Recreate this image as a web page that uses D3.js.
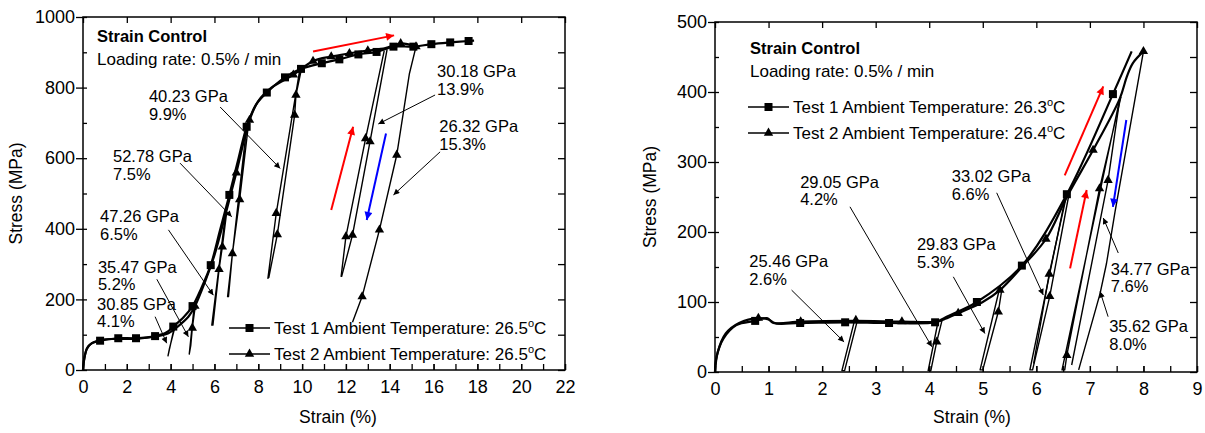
<!DOCTYPE html>
<html><head><meta charset="utf-8">
<script src="https://cdn.jsdelivr.net/npm/d3@7/dist/d3.min.js"></script>
<style>
body{margin:0;background:#fff}
text{font-family:"Liberation Sans",Arial,sans-serif;fill:#000}
</style></head>
<body><svg id="c" width="1205" height="433"></svg>
<script>
// ---------------- DATA ----------------
const leftXTicks = [0,2,4,6,8,10,12,14,16,18,20,22];
const leftXMinor = [0,1,2,3,4,5,6,7,8,9,10,11,12,13,14,15,16,17,18,19,20,21,22];
const leftYTicks = [0,200,400,600,800,1000];
const leftYMinor = [0,100,200,300,400,500,600,700,800,900,1000];
const rightXTicks = [0,1,2,3,4,5,6,7,8,9];
const rightXMinor = [0,0.5,1,1.5,2,2.5,3,3.5,4,4.5,5,5.5,6,6.5,7,7.5,8,8.5,9];
const rightYTicks = [0,100,200,300,400,500];
const rightYMinor = [0,50,100,150,200,250,300,350,400,450,500];

// Left panel – Test 1 (squares) envelope
const leftTest1Line = [[0,0],[0.06,32],[0.18,60],[0.4,76],[0.78,83],[1.61,90],[2.42,90],[3.29,96],[3.8,106],[4.12,123],[4.6,150],[5.0,181],[5.4,232],[5.83,297],[6.25,395],[6.68,496],[7.1,600],[7.47,689],[7.9,752],[8.39,786],[9.22,829],[9.95,853],[10.9,869],[11.7,880],[12.57,894],[13.4,901],[14.17,916],[15.08,916],[15.9,923],[16.76,928],[17.6,932],[17.85,933]];
const leftTest1Squares = [[0.78,83],[1.61,90],[2.42,90],[3.29,96],[4.12,123],[5.0,181],[5.83,297],[6.68,496],[7.47,689],[8.39,786],[9.22,829],[9.95,853],[10.9,869],[11.7,880],[12.57,894],[13.4,901],[14.17,916],[15.08,916],[15.9,923],[16.76,928],[17.6,932]];
// Left panel – Test 2 (triangles) envelope
const leftTest2Line = [[0,0],[0.08,40],[0.25,68],[0.8,85],[1.6,88],[2.5,89],[3.3,95],[3.9,104],[4.3,122],[4.8,150],[5.11,181],[5.6,255],[6.0,325],[6.5,440],[7.0,559],[7.6,708],[8.0,762],[8.6,800],[9.6,836],[10.5,875],[11.33,888],[12.16,897],[13.0,905],[13.8,912],[14.5,925],[15.2,916]];
const leftTest2Triangles = [[5.11,181],[7.0,559],[7.6,708],[9.6,836],[10.5,875],[11.33,888],[12.16,897],[13.0,905],[14.5,925],[15.2,916],
  [4.99,119],[6.21,285],[6.36,349],[6.82,330],[7.15,483],[8.82,444],[8.87,384],[9.66,722],[9.72,779],
  [12.0,378],[12.3,382],[12.9,656],[13.1,647],[12.74,208],[13.53,397],[14.32,609]];
// Left panel – unloading / reloading loops
const leftLoops = [
  [[4.17,122],[3.88,40],[3.95,62],[4.22,127]],
  [[5.08,184],[4.85,45],[4.92,70],[4.99,119],[5.14,188]],
  [[6.5,440],[5.88,127],[5.93,127],[6.21,285],[6.36,349],[6.56,448]],
  [[7.47,689],[6.6,208],[6.64,208],[6.82,330],[7.15,483],[7.55,694]],
  [[9.9,853],[8.82,444],[8.44,260],[8.48,262],[8.87,384],[9.66,722],[9.72,779],[9.98,855]],
  [[13.75,905],[12.9,656],[12.0,378],[11.78,264]],
  [[11.8,264],[12.3,382],[13.1,647],[13.88,908]],
  [[15.2,916],[14.9,840],[14.32,609],[13.53,397],[12.74,208],[12.3,135]]
];

// Right panel – Test 1 (squares)
const rightTest1Line = [[0,0],[0.03,22],[0.16,48],[0.4,67],[0.75,73],[0.97,77],[1.09,70],[1.59,70],[2.43,71],[3.25,70],[4.11,71],[4.3,78],[4.89,100],[5.73,152],[6.57,254],[7.43,397],[7.78,458]];
const rightTest1Squares = [[0.75,73],[1.59,70],[2.43,71],[3.25,70],[4.11,71],[4.89,100],[5.73,152],[6.57,254],[7.43,397]];
// Right panel – Test 2 (triangles)
const rightTest2Line = [[0,0],[0.05,28],[0.2,55],[0.45,70],[0.81,77],[1.0,75],[1.12,70],[1.6,72],[2.63,73],[3.49,72],[4.15,72],[4.3,76],[4.54,84],[5.0,100],[5.32,117],[5.73,150],[6.18,190],[6.57,250],[7.06,317],[7.56,391],[7.69,422],[7.8,441],[8.0,458]];
const rightTest2Triangles = [[0.81,77],[1.6,72],[2.63,74],[3.49,72],[4.54,84],[5.32,117],[6.18,190],[7.06,317],[8.0,458],
  [4.14,43],[5.29,86],[6.24,140],[6.25,108],[6.57,24],[7.18,262],[7.34,274]];
const rightLoops = [
  [[2.6,72],[2.37,2],[2.42,2],[2.66,74]],
  [[4.16,70],[3.98,2],[4.03,2],[4.14,43],[4.24,74]],
  [[5.3,115],[4.95,3],[5.0,3],[5.29,86],[5.36,120]],
  [[6.55,252],[5.88,3],[5.93,3],[6.25,108],[6.6,250]],
  [[6.57,254],[6.24,140],[5.95,12]],
  [[7.56,391],[6.48,3],[6.53,3],[6.57,24],[7.18,262],[7.58,393]],
  [[6.66,10],[7.34,274],[7.56,391]],
  [[8.0,458],[7.47,229],[7.31,155],[7.19,112],[6.79,3]]
];

// Coloured direction arrows [from, to]
const leftRedArrows = [[[10.5,902],[14.2,948]],[[11.33,453],[12.33,689]]];
const leftBlueArrows = [[[13.83,670],[12.95,425]]];
const rightRedArrows = [[[6.53,281],[7.25,408]],[[6.63,148],[6.94,260]]];
const rightBlueArrows = [[[7.68,360],[7.43,236]]];

// Annotations
const leftAnnoText = [["40.23 GPa","9.9%"],["52.78 GPa","7.5%"],["47.26 GPa","6.5%"],["35.47 GPa","5.2%"],["30.85 GPa","4.1%"],["30.18 GPa","13.9%"],["26.32 GPa","15.3%"]];
const leftAnnoAt = [[3.01,759],[1.37,589],[0.78,419],[0.68,275],[0.64,170],[16.16,830],[16.26,674]];
const leftAnnoFrom = [[6.26,745],[4.43,586],[3.9,397],[3.37,257],[3.29,151],[16.07,779],[16.3,618]];
const leftAnnoTo = [[9.0,571],[6.79,434],[5.95,212],[4.81,94],[3.82,76],[13.48,697],[14.17,496]];
const rightAnnoText = [["25.46 GPa","2.6%"],["29.05 GPa","4.2%"],["29.83 GPa","5.3%"],["33.02 GPa","6.6%"],["34.77 GPa","7.6%"],["35.62 GPa","8.0%"]];
const rightAnnoAt = [[0.64,150],[1.59,263],[3.77,174],[4.42,271],[7.39,139],[7.36,57]];
const rightAnnoFrom = [[1.43,117],[2.52,236],[4.45,136],[5.26,256],[7.53,170],[7.34,79]];
const rightAnnoTo = [[2.41,43],[4.05,36],[5.04,55],[6.13,110],[7.25,220],[7.19,115]];

const titleLines = ["Strain Control","Loading rate: 0.5% / min"];
const leftLegend = [["Test 1 Ambient Temperature: 26.5","C","square"],["Test 2 Ambient Temperature: 26.5","C","triangle"]];
const rightLegend = [["Test 1 Ambient Temperature: 26.3","C","square"],["Test 2 Ambient Temperature: 26.4","C","triangle"]];

// ---------------- DRAW ----------------
const svg = d3.select("#c");
svg.append("rect").attr("width",1205).attr("height",433).attr("fill","#fff");

const defs = svg.append("defs");
function mk(id,color,w,h){
  defs.append("marker").attr("id",id).attr("viewBox","0 0 10 10").attr("refX",10).attr("refY",5)
    .attr("markerUnits","userSpaceOnUse").attr("markerWidth",w).attr("markerHeight",h).attr("orient","auto")
    .append("path").attr("d","M0,0L10,5L0,10z").attr("fill",color);
}
mk("ar","#ff0000",12,8); mk("ab","#0000ff",12,8); mk("ak","#000",9,6);

function panel(cfg){
  const g = svg.append("g");
  const {x,y} = cfg;
  const [x0,x1] = x.range(), [y0,y1] = y.range();
  const tickStyle = s => s.selectAll("line").attr("stroke","#000").attr("stroke-width",1.3);
  g.append("g").attr("transform",`translate(0,${y0})`)
    .call(d3.axisBottom(x).tickValues(cfg.xMinor).tickSize(-6).tickFormat(""))
    .call(s=>s.select(".domain").remove()).call(tickStyle);
  g.append("g").attr("transform",`translate(0,${y0})`)
    .call(d3.axisBottom(x).tickValues(cfg.xTicks).tickSize(-6).tickPadding(10).tickFormat(d3.format("d")))
    .call(s=>s.select(".domain").remove()).call(tickStyle)
    .call(s=>s.selectAll("text").style("font-size","18px").style("font-family","'Liberation Sans',Arial,sans-serif"));
  g.append("g").attr("transform",`translate(0,${y1})`)
    .call(d3.axisTop(x).tickValues(cfg.xTicks).tickSize(-6).tickFormat(""))
    .call(s=>s.select(".domain").remove()).call(tickStyle);
  g.append("g").attr("transform",`translate(${x0},0)`)
    .call(d3.axisLeft(y).tickValues(cfg.yMinor).tickSize(-4).tickFormat(""))
    .call(s=>s.select(".domain").remove()).call(tickStyle);
  g.append("g").attr("transform",`translate(${x0},0)`)
    .call(d3.axisLeft(y).tickValues(cfg.yTicks).tickSize(7).tickPadding(1).tickFormat(d3.format("d")))
    .call(s=>s.select(".domain").remove()).call(tickStyle)
    .call(s=>s.selectAll("text").style("font-size","18px").style("font-family","'Liberation Sans',Arial,sans-serif"));
  g.append("g").attr("transform",`translate(${x1},0)`)
    .call(d3.axisRight(y).tickValues(cfg.yMinor).tickSize(-7).tickFormat(""))
    .call(s=>s.select(".domain").remove()).call(tickStyle);
  g.append("rect").attr("x",x0).attr("y",y1).attr("width",x1-x0).attr("height",y0-y1)
    .attr("fill","none").attr("stroke","#000").attr("stroke-width",1.5);
  g.append("text").text("Strain (%)").attr("x",cfg.xTitleX).attr("y",423)
    .attr("text-anchor","middle").style("font-size","17.5px");
  g.append("text").text("Stress (MPa)")
    .attr("transform",`translate(${cfg.yTitleX},${(y0+y1)/2}) rotate(-90)`)
    .attr("text-anchor","middle").style("font-size","17.5px");

  const curve = d3.line().x(d=>x(d[0])).y(d=>y(d[1])).curve(d3.curveCatmullRom.alpha(0.5));
  const lin = d3.line().x(d=>x(d[0])).y(d=>y(d[1]));
  g.selectAll(".loop").data(cfg.loops).join("path").attr("d",lin)
    .attr("fill","none").attr("stroke","#000").attr("stroke-width",1.4).attr("stroke-linejoin","round");
  [cfg.t1,cfg.t2].forEach(ln=>g.append("path").attr("d",curve(ln)).attr("fill","none")
    .attr("stroke","#000").attr("stroke-width",2.2).attr("stroke-linejoin","round"));
  g.selectAll(".sq").data(cfg.sq).join("rect").attr("x",d=>x(d[0])-4).attr("y",d=>y(d[1])-4)
    .attr("width",8).attr("height",8).attr("fill","#000");
  const tri = d3.symbol().type(d3.symbolTriangle).size(38);
  g.selectAll(".tr").data(cfg.tr).join("path").attr("d",tri)
    .attr("transform",d=>`translate(${x(d[0])},${y(d[1])})`).attr("fill","#000");
  const arrow = (arr,color,mid)=>g.selectAll(null).data(arr).join("line")
    .attr("x1",d=>x(d[0][0])).attr("y1",d=>y(d[0][1])).attr("x2",d=>x(d[1][0])).attr("y2",d=>y(d[1][1]))
    .attr("stroke",color).attr("stroke-width",2).attr("marker-end",`url(#${mid})`);
  arrow(cfg.red,"#ff0000","ar"); arrow(cfg.blue,"#0000ff","ab");
  cfg.annoText.forEach((t,i)=>{
    const tx = g.append("text").attr("x",x(cfg.annoAt[i][0])).attr("y",y(cfg.annoAt[i][1])).style("font-size","16.5px");
    tx.append("tspan").text(t[0]);
    tx.append("tspan").attr("x",x(cfg.annoAt[i][0])).attr("dy",17.5).text(t[1]);
    g.append("line").attr("x1",x(cfg.annoFrom[i][0])).attr("y1",y(cfg.annoFrom[i][1]))
      .attr("x2",x(cfg.annoTo[i][0])).attr("y2",y(cfg.annoTo[i][1]))
      .attr("stroke","#000").attr("stroke-width",1).attr("marker-end","url(#ak)");
  });
  g.append("text").text(titleLines[0]).attr("x",cfg.titleX).attr("y",cfg.titleY)
    .style("font-size","16.5px").style("font-weight","bold");
  g.append("text").text(titleLines[1]).attr("x",cfg.titleX).attr("y",cfg.titleY+23)
    .style("font-size","17px");
  cfg.legend.forEach((l,i)=>{
    const ly = cfg.legY + i*26, lx = cfg.legX;
    g.append("line").attr("x1",lx).attr("x2",lx+41).attr("y1",ly).attr("y2",ly).attr("stroke","#000").attr("stroke-width",1.5);
    if(l[2]==="square") g.append("rect").attr("x",lx+20.5-4).attr("y",ly-4).attr("width",8).attr("height",8).attr("fill","#000");
    else g.append("path").attr("d",tri).attr("transform",`translate(${lx+20.5},${ly})`).attr("fill","#000");
    const t = g.append("text").attr("x",lx+45).attr("y",ly+6).style("font-size","17px");
    t.append("tspan").text(l[0]);
    t.append("tspan").attr("dy",-7).style("font-size","11px").text("o");
    t.append("tspan").attr("dy",7).text(l[1]);
  });
}

panel({x:d3.scaleLinear().domain([0,22]).range([83,565]), y:d3.scaleLinear().domain([0,1000]).range([370,17]),
  xTicks:leftXTicks, xMinor:leftXMinor, yTicks:leftYTicks, yMinor:leftYMinor,
  xTitleX:338, yTitleX:22, t1:leftTest1Line, t2:leftTest2Line, sq:leftTest1Squares, tr:leftTest2Triangles,
  loops:leftLoops, red:leftRedArrows, blue:leftBlueArrows,
  annoText:leftAnnoText, annoAt:leftAnnoAt, annoFrom:leftAnnoFrom, annoTo:leftAnnoTo,
  titleX:97, titleY:42, legend:leftLegend, legX:229, legY:328});

panel({x:d3.scaleLinear().domain([0,9]).range([715,1197]), y:d3.scaleLinear().domain([0,500]).range([372,22]),
  xTicks:rightXTicks, xMinor:rightXMinor, yTicks:rightYTicks, yMinor:rightYMinor,
  xTitleX:972, yTitleX:656, t1:rightTest1Line, t2:rightTest2Line, sq:rightTest1Squares, tr:rightTest2Triangles,
  loops:rightLoops, red:rightRedArrows, blue:rightBlueArrows,
  annoText:rightAnnoText, annoAt:rightAnnoAt, annoFrom:rightAnnoFrom, annoTo:rightAnnoTo,
  titleX:750, titleY:54, legend:rightLegend, legX:748, legY:107});
</script></body></html>
